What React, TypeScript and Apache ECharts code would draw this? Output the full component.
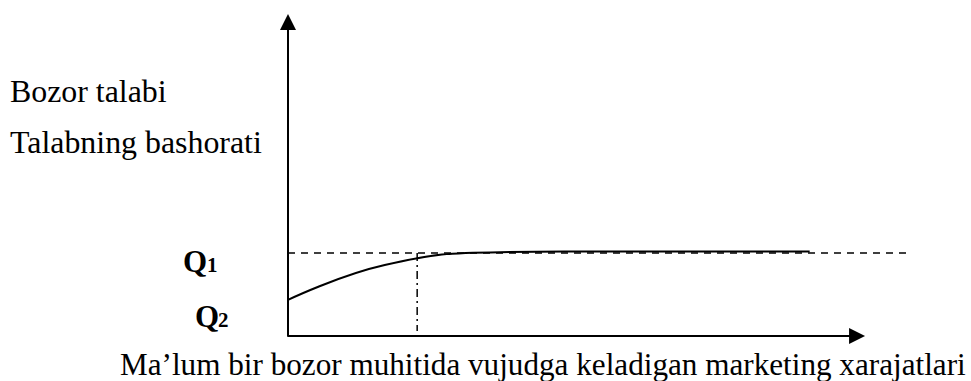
import React, { useEffect, useRef } from "react";
import * as echarts from "echarts";

// Abstract units: x in [0,100] along the horizontal extent, y in [0,100] along the vertical axis
const curveX = [0, 15.5, 34.0, 54.7, 83.6];
const curveY = [11.5, 22.6, 26.7, 26.9, 26.9];
const q1Level = 26.4;
const q1LineEnd = 100;
const forecastX = 20.7;
const forecastBottom = 1.6;
const xAxisEnd = 91.2;

const yLabels = ["Bozor talabi", "Talabning bashorati"];
const xLabel = "Ma\u2019lum bir bozor muhitida vujudga keladigan marketing xarajatlari";
const qLabels = ["Q", "Q"];
const qSubs = ["1", "2"];

const SERIF = "'Liberation Serif', 'Times New Roman', serif";

function fitSize(text: string, targetWidth: number, fallback: number) {
  const canvas = document.createElement("canvas");
  const ctx = canvas.getContext("2d");
  if (!ctx) return fallback;
  ctx.font = `100px ${SERIF}`;
  const w = ctx.measureText(text).width;
  if (!w) return fallback;
  return (100 * targetWidth) / w;
}

export default function App() {
  const ref = useRef<HTMLDivElement>(null);
  useEffect(() => {
    if (!ref.current) return;
    const chart = echarts.init(ref.current, undefined, { renderer: "svg" });
    const curve = curveX.map((x, i) => [x, curveY[i]]);
    const hidden = {
      axisTick: { show: false },
      axisLabel: { show: false },
      splitLine: { show: false },
    };
    const labelSize = fitSize(yLabels[1], 252, 32);
    const xLabelSize = fitSize(xLabel, 846, 31);
    const textStyle = (text: string, x: number, y: number, size: number, bold = false) => ({
      type: "text",
      x,
      y,
      style: {
        text,
        font: `${bold ? "bold " : ""}${size}px ${SERIF}`,
        fill: "#000",
        align: "left",
        verticalAlign: "middle",
      },
    });
    chart.setOption({
      animation: false,
      grid: { left: 288, top: 22, width: 624, height: 314 },
      xAxis: { type: "value", min: 0, max: 100, ...hidden, axisLine: { show: false } },
      yAxis: {
        type: "value",
        min: 0,
        max: 100,
        ...hidden,
        axisLine: {
          show: true,
          symbol: ["none", "triangle"],
          symbolSize: [16, 16],
          lineStyle: { color: "#000", width: 2 },
        },
      },
      series: [
        {
          type: "line",
          data: [
            { value: [0, 0], symbol: "none" },
            { value: [xAxisEnd, 0], symbol: "triangle", symbolSize: 16, symbolRotate: -90 },
          ],
          showSymbol: true,
          itemStyle: { color: "#000" },
          lineStyle: { color: "#000", width: 2 },
          clip: false,
        },
        {
          type: "line",
          data: [[0, q1Level], [q1LineEnd, q1Level]],
          symbol: "none",
          lineStyle: { color: "#000", width: 1.5, type: [7, 6] },
        },
        {
          type: "line",
          data: [[forecastX, q1Level], [forecastX, forecastBottom]],
          symbol: "none",
          lineStyle: { color: "#000", width: 1.5, type: [8, 4, 2, 4] },
        },
        {
          type: "line",
          data: curve,
          smooth: 0.45,
          symbol: "none",
          lineStyle: { color: "#000", width: 2 },
        },
      ],
      graphic: [
        textStyle(yLabels[0], 10, 91, labelSize),
        textStyle(yLabels[1], 10, 142, labelSize),
        textStyle(xLabel, 120, 364, xLabelSize),
        textStyle(qLabels[0], 183, 261, 31, true),
        textStyle(qSubs[0], 207, 265, 21, true),
        textStyle(qLabels[1], 195, 316, 31, true),
        textStyle(qSubs[1], 218, 320, 21, true),
      ],
    });
    return () => chart.dispose();
  }, []);
  return (
    <div
      ref={ref}
      style={{ position: "absolute", left: 0, top: 0, width: 971, height: 381 }}
    />
  );
}
